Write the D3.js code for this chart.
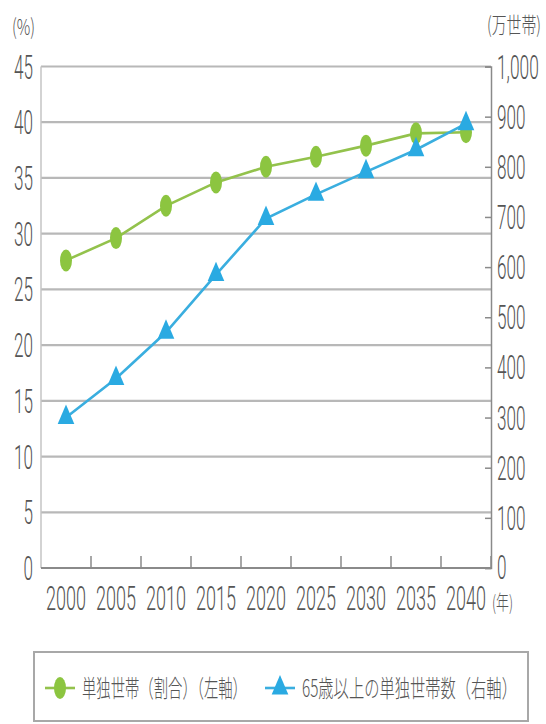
<!DOCTYPE html>
<html>
<head>
<meta charset="utf-8">
<script src="https://cdn.jsdelivr.net/npm/d3@7"></script>
<style>
  html, body { margin: 0; padding: 0; background: #fff; }
  svg { display: block; }
</style>
</head>
<body>
<svg id="chart" width="546" height="724"></svg>
<script>
// Years on the horizontal axis
const years = ["2000", "2005", "2010", "2015", "2020", "2025", "2030", "2035", "2040"];
// Share of single-person households (%), left axis
const shareSingle = [27.6, 29.6, 32.5, 34.6, 36.0, 36.9, 37.9, 39.0, 39.1];
// Single-person households aged 65+ (10,000 households), right axis
const elderlySingle = [300, 378, 470, 585, 697, 745, 790, 834, 886];
// Tick values
const leftTicks = [0, 5, 10, 15, 20, 25, 30, 35, 40, 45];
const rightTicks = [0, 100, 200, 300, 400, 500, 600, 700, 800, 900, 1000];
// Text
const seriesNames = ["単独世帯（割合）（左軸）", "65歳以上の単独世帯数（右軸）"];
const leftUnit = "(%)";
const rightUnit = "(万世帯)";
const xUnit = "(年)";

const svg = d3.select("#chart");
const plot = { left: 41, right: 491, top: 66.5, bottom: 568 };

const x = d3.scaleBand().domain(years).range([plot.left, plot.right]).padding(0);
const yL = d3.scaleLinear().domain([0, 45]).range([plot.bottom, plot.top]);
const yR = d3.scaleLinear().domain([0, 1000]).range([plot.bottom, plot.top]);
const cx = d => x(d) + x.bandwidth() / 2;

const green = "#8cc540", greenLine = "#93c24c";
const blue = "#2aaae2", blueLine = "#3aaedf";
const textColor = "#555";
const numFont = "Roboto, 'Liberation Sans', Arial, sans-serif";
const cjkFont = "'Noto Sans CJK JP', 'Noto Sans', sans-serif";

// Condensed text: laid out at full size, then squeezed horizontally to a target width.
function squeezed(parent, str, xPos, yPos, anchor, width, size, family) {
  const g = parent.append("g");
  const t = g.append("text")
    .attr("font-family", family)
    .attr("font-size", size)
    .attr("font-weight", 300)
    .attr("fill", textColor)
    .attr("text-anchor", anchor)
    .text(str);
  const natural = t.node().getComputedTextLength() || width;
  const sx = width / natural;
  g.attr("transform", `translate(${xPos},${yPos}) scale(${sx},1)`);
  return g;
}
function numLabel(parent, str, xPos, yPos, anchor, digitW) {
  const w = [...str].reduce((s, c) => s + (c === "," ? digitW * 0.4 : digitW), 0);
  return squeezed(parent, str, xPos, yPos, anchor, w, 34, numFont);
}

// horizontal gridlines (left scale)
svg.append("g").selectAll("line")
  .data(leftTicks.filter(d => d > 0))
  .join("line")
  .attr("x1", plot.left).attr("x2", plot.right)
  .attr("y1", d => yL(d)).attr("y2", d => yL(d))
  .attr("stroke", "#b8b8b8").attr("stroke-width", 2.2);

// left axis line
svg.append("line")
  .attr("x1", plot.left).attr("x2", plot.left)
  .attr("y1", plot.top).attr("y2", plot.bottom)
  .attr("stroke", "#c4c4c4").attr("stroke-width", 1.5);

// right axis with inward ticks
const rightAxis = d3.axisRight(yR).tickValues(rightTicks).tickSize(-6).tickFormat("");
const gR = svg.append("g").attr("transform", `translate(${plot.right},0)`).call(rightAxis);
gR.select(".domain").attr("stroke", "#8a8a8a").attr("stroke-width", 1.5);
gR.selectAll(".tick line").attr("stroke", "#8a8a8a").attr("stroke-width", 1.5);

// bottom axis line and upward ticks at category boundaries
svg.append("line")
  .attr("x1", plot.left).attr("x2", plot.right)
  .attr("y1", plot.bottom).attr("y2", plot.bottom)
  .attr("stroke", "#8a8a8a").attr("stroke-width", 2);
const bounds = years.slice(1).map(d => x(d)).concat([plot.right]);
svg.append("g").selectAll("line")
  .data(bounds)
  .join("line")
  .attr("x1", d => d).attr("x2", d => d)
  .attr("y1", plot.bottom).attr("y2", plot.bottom - 12)
  .attr("stroke", "#8a8a8a").attr("stroke-width", 1.5);

// tick labels
const labels = svg.append("g");
leftTicks.forEach(t => numLabel(labels, String(t), 33, yL(t) + 12, "end", 9.5));
rightTicks.forEach(t => numLabel(labels, d3.format(",")(t), 497, yR(t) + (t === 0 ? 11 : 12), "start", 9.5));
years.forEach(yv => numLabel(labels, yv, cx(yv), 610, "middle", 10));

// unit labels
squeezed(svg, leftUnit, 12, 35, "start", 23, 22, cjkFont);
squeezed(svg, rightUnit, 487, 33, "start", 54, 22, cjkFont);
squeezed(svg, xUnit, 492, 610, "start", 21, 20, cjkFont);

// series lines
const lineL = d3.line().x((d, i) => cx(years[i])).y(d => yL(d));
const lineR = d3.line().x((d, i) => cx(years[i])).y(d => yR(d));

const triangle = d3.symbol().type(d3.symbolTriangle).size(120);

svg.append("path").datum(shareSingle)
  .attr("d", lineL).attr("fill", "none")
  .attr("stroke", greenLine).attr("stroke-width", 2.6);
svg.append("g").selectAll("ellipse")
  .data(shareSingle)
  .join("ellipse")
  .attr("cx", (d, i) => cx(years[i])).attr("cy", d => yL(d))
  .attr("rx", 6).attr("ry", 11)
  .attr("fill", green);

svg.append("path").datum(elderlySingle)
  .attr("d", lineR).attr("fill", "none")
  .attr("stroke", blueLine).attr("stroke-width", 2.6);
svg.append("g").selectAll("path")
  .data(elderlySingle)
  .join("path")
  .attr("d", triangle)
  .attr("transform", (d, i) => `translate(${cx(years[i])},${yR(d)}) scale(1,1.35)`)
  .attr("fill", blue);

// legend
const lg = svg.append("g");
lg.append("rect")
  .attr("x", 34).attr("y", 652).attr("width", 494).attr("height", 69)
  .attr("fill", "#fff").attr("stroke", "#a8a8a8").attr("stroke-width", 2);
const legY = 688;
lg.append("line").attr("x1", 45).attr("x2", 75).attr("y1", legY).attr("y2", legY)
  .attr("stroke", greenLine).attr("stroke-width", 2.6);
lg.append("ellipse").attr("cx", 60).attr("cy", legY).attr("rx", 6).attr("ry", 11).attr("fill", green);
squeezed(lg, seriesNames[0], 82, legY + 9, "start", 165, 24, cjkFont);
lg.append("line").attr("x1", 265).attr("x2", 295).attr("y1", legY).attr("y2", legY)
  .attr("stroke", blueLine).attr("stroke-width", 2.6);
lg.append("path").attr("d", triangle)
  .attr("transform", `translate(280,${legY}) scale(1,1.35)`).attr("fill", blue);
squeezed(lg, seriesNames[1], 302, legY + 9, "start", 215, 24, cjkFont);
</script>
</body>
</html>
